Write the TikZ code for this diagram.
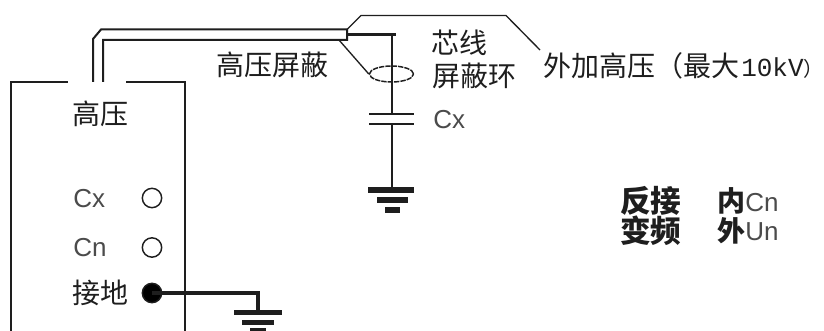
\documentclass[tikz,border=0pt]{standalone}
\usepackage{fontspec}
\usetikzlibrary{shapes.geometric}
\setmainfont{Liberation Sans}
\newfontfamily\cjk{Noto Sans CJK SC}
\newfontfamily\monof{Liberation Mono}
\definecolor{ink}{HTML}{1E1E1E}
\begin{document}
\begin{tikzpicture}[x=0.75pt,y=-0.75pt,
  wire/.style={draw=ink,line width=1.5pt},
  heavy/.style={draw=ink,line width=2.5pt},
  gbar/.style={draw=ink,line width=4pt},
  thinw/.style={draw=ink,line width=1pt},
  lab/.style={inner sep=0pt,anchor=west,text=ink},
  big/.style={lab,font=\cjk\fontsize{21}{21}\selectfont},
  bold/.style={lab,font=\cjk\bfseries\fontsize{23}{23}\selectfont},
  boldb/.style={lab,font=\cjk\bfseries\fontsize{21}{21}\selectfont},
  latin/.style={lab,font=\fontsize{19.5}{19.5}\selectfont,text=ink!80},
  term/.style={circle,draw=ink,line width=1.1pt,inner sep=0pt,minimum size=14.5pt},
  ring/.style={ellipse,draw=ink,dash pattern=on 4pt off 0.8pt,line width=1.1pt,minimum width=33pt,minimum height=12pt,inner sep=0pt}
]
\useasboundingbox (0,0) rectangle (824,331);
\fill[white] (0,0) rectangle (824,331);
% instrument box
\coordinate (boxbl) at (11,331);
\coordinate (boxtl) at (11,82);
\coordinate (boxg1) at (68,82);
\coordinate (boxg2) at (126,82);
\coordinate (boxtr) at (185,82);
\coordinate (boxbr) at (185,331);
\draw[wire] (boxbl) -- (boxtl) -- (boxg1);
\draw[wire] (boxg2) -- (boxtr) -- (boxbr);
% cable
\coordinate (c1) at (93,82);
\coordinate (c2) at (93,39);
\coordinate (c3) at (101,29.5);
\coordinate (c4) at (347,29.5);
\coordinate (c5) at (347,40);
\coordinate (c6) at (103,40);
\coordinate (c7) at (103,82);
\draw[wire] (c1) -- (c2) -- (c3) -- (c4) -- (c5) -- (c6) -- (c7);
% high-voltage leader
\coordinate (h1) at (361,15.5);
\coordinate (h2) at (506,15.5);
\coordinate (h3) at (540,50);
\draw[thinw] (c4) -- (h1) -- (h2) -- (h3);
% core wire
\coordinate (coreL) at (347,34.5);
\coordinate (coreR) at (396,34.5);
\coordinate (coreT) at (391.5,34.5);
\draw[heavy] (coreL) -- (coreR);
% shield ring
\node[ring] (ring) at (391.5,74) {};
\coordinate (shieldL) at (339,40);
\draw[thinw] (shieldL) -- (ring.west);
% capacitor
\coordinate (capT) at (391.5,114);
\coordinate (capB) at (391.5,124);
\coordinate (capTL) at (369,114);
\coordinate (capTR) at (414,114);
\coordinate (capBL) at (369,124);
\coordinate (capBR) at (414,124);
\coordinate (gnd1) at (391.5,190);
\draw[wire] (coreT) -- (capT);
\draw[wire] (capTL) -- (capTR);
\draw[wire] (capBL) -- (capBR);
\draw[wire] (capB) -- (gnd1);
% ground 1
\draw[gbar] (368,190) -- (414,190);
\draw[gbar] (377,200) -- (408,200);
\draw[gbar] (385,210) -- (400,210);
% terminals
\node[term] (tcx) at (152,198) {};
\node[term] (tcn) at (152,247.5) {};
\node[term,fill=black] (tgnd) at (152,293) {};
\coordinate (bend) at (258,293);
\coordinate (gnd2) at (258,312);
\draw[heavy] (tgnd.center) -- (bend) -- (gnd2);
% ground 2
\draw[gbar] (234,312.5) -- (282,312.5);
\draw[gbar] (242,322.5) -- (274,322.5);
\draw[gbar] (250,331) -- (266,331);
% labels
\node[big] (lhv) at (72,114) {高压};
\node[big] (lshield) at (216,65) {高压屏蔽};
\node[big] (lcore) at (431,43) {芯线};
\node[big] (lring) at (432,76) {屏蔽环};
\node[big] (lext) at (543,66) {外加高压（最大\hspace{1.5pt}{\monof\fontsize{19.5}{19.5}\selectfont 10kV}{\fontsize{15}{15}\selectfont ）}};
\node[latin] (lcx2) at (433,120) {Cx};
\node[latin] (lcx) at (73,199) {Cx};
\node[latin] (lcn) at (73,248) {Cn};
\node[big] (lgnd) at (72,293) {接地};
\node[bold] (lrev) at (620,201) {反接};
\node[bold] (lvar) at (620,231) {变频};
\node[boldb] (lin) at (717,201) {内};
\node[latin] (lcn2) at (745,203) {Cn};
\node[boldb] (lout) at (717,231) {外};
\node[latin] (lun) at (745,232) {Un};
\end{tikzpicture}
\end{document}
